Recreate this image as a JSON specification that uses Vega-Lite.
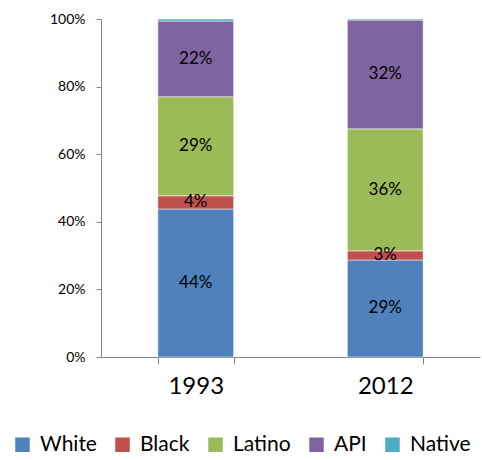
{
  "$schema": "https://vega.github.io/schema/vega-lite/v6.json",
  "width": 379,
  "height": 338,
  "autosize": {"type": "none"},
  "padding": {"left": 101, "top": 19, "right": 2, "bottom": 103},
  "background": "white",
  "config": {
    "view": {"stroke": null},
    "font": "Lato",
    "axis": {"grid": false, "domainColor": "#868686", "tickColor": "#868686", "labelColor": "#000000", "labelFont": "Lato"}
  },
  "data": {
    "values": [
      {"year": "1993", "group": "White", "share": 0.438},
      {"year": "1993", "group": "Black", "share": 0.039},
      {"year": "1993", "group": "Latino", "share": 0.293},
      {"year": "1993", "group": "API", "share": 0.224},
      {"year": "1993", "group": "Native", "share": 0.006},
      {"year": "2012", "group": "White", "share": 0.287},
      {"year": "2012", "group": "Black", "share": 0.027},
      {"year": "2012", "group": "Latino", "share": 0.361},
      {"year": "2012", "group": "API", "share": 0.322},
      {"year": "2012", "group": "Native", "share": 0.003}
    ]
  },
  "transform": [
    {"calculate": "indexof(['White','Black','Latino','API','Native'], datum.group)", "as": "stackOrder"}
  ],
  "encoding": {
    "x": {
      "field": "year", "type": "nominal",
      "scale": {"paddingInner": 0.6, "paddingOuter": 0.3},
      "axis": {"title": null, "labelAngle": 0, "labelFontSize": 24, "labelPadding": 10, "tickBand": "extent", "tickSize": 7}
    },
    "y": {
      "field": "share", "type": "quantitative", "stack": "zero",
      "scale": {"domain": [0, 1], "nice": false},
      "axis": {"title": null, "format": ".0%", "values": [0, 0.2, 0.4, 0.6, 0.8, 1], "labelFontSize": 14, "tickSize": 5, "labelPadding": 11}
    },
    "order": {"field": "stackOrder", "type": "quantitative", "sort": "ascending"}
  },
  "layer": [
    {
      "mark": {"type": "bar", "stroke": "white", "strokeWidth": 0.5},
      "encoding": {
        "color": {
          "field": "group", "type": "nominal",
          "scale": {"domain": ["White", "Black", "Latino", "API", "Native"], "range": ["#4F81BD", "#C0504D", "#9BBB59", "#8064A2", "#4BACC6"]},
          "legend": {
            "title": null, "orient": "none", "direction": "horizontal",
            "legendX": -89, "legendY": 415,
            "symbolType": "square", "symbolSize": 210, "symbolStrokeWidth": 0,
            "labelFontSize": 21, "labelOffset": 7, "columnPadding": 15, "labelColor": "#000000", "labelFont": "Lato"
          }
        }
      }
    },
    {
      "transform": [{"filter": "datum.group != 'Native'"}],
      "mark": {"type": "text", "fontSize": 17, "color": "#000000", "baseline": "middle"},
      "encoding": {
        "y": {"field": "share", "type": "quantitative", "stack": "zero", "bandPosition": 0.5},
        "detail": {"field": "group", "type": "nominal"},
        "text": {"field": "share", "type": "quantitative", "format": ".0%"}
      }
    }
  ]
}
